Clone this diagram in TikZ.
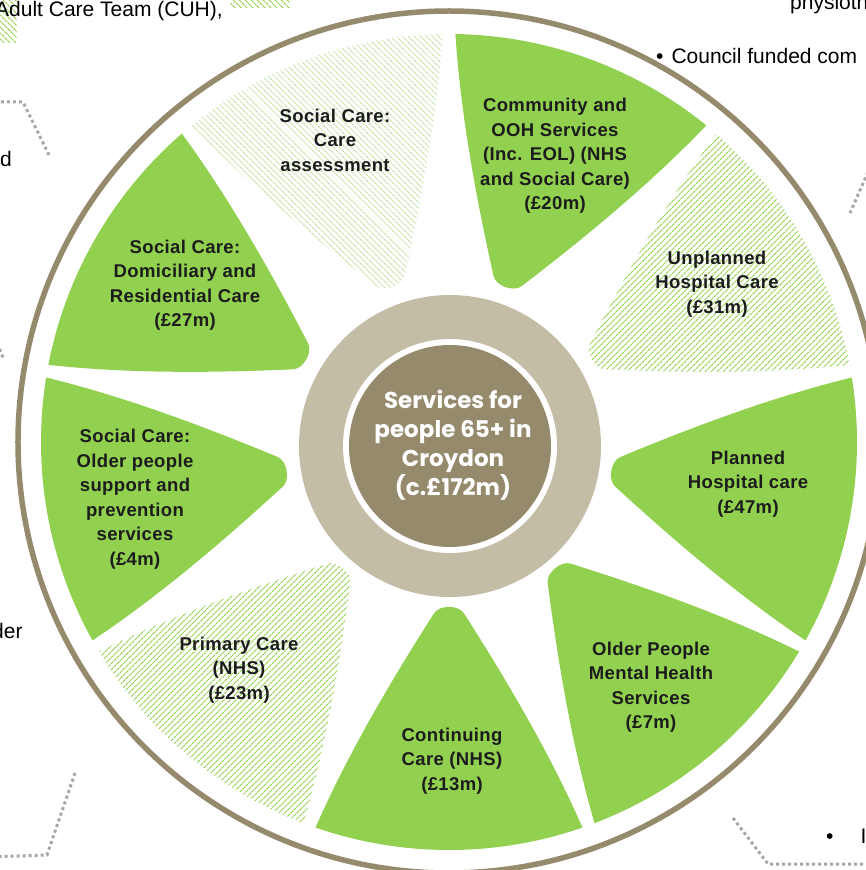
\documentclass[tikz,border=0pt]{standalone}
\usepackage{fontspec}
\setmainfont{Liberation Sans}
\newfontfamily\petalfont{Liberation Sans}[LetterSpace=2]
\newfontfamily\hubfont{Poppins}
\usepackage{tikz}
\usetikzlibrary{patterns.meta}
\definecolor{leafgreen}{HTML}{92D050}
\definecolor{hatchgreen}{HTML}{92D050}
\definecolor{palegreen}{HTML}{C6E3A6}
\definecolor{tanring}{HTML}{958A6B}
\definecolor{tanlight}{HTML}{C4BDA6}
\definecolor{dotgrey}{HTML}{A6A6A6}
\definecolor{labelink}{HTML}{1C1C1C}
\newcommand{\petalpath}[1]{({#1+19.1}:408) arc[start angle={#1+19.1}, end angle={#1-19.1}, radius=408pt]
	.. controls ({#1-18}:330) and ({#1-14}:250) .. ({#1-5}:172)
	.. controls ({#1-3.4}:163) and ({#1+3.4}:163) .. ({#1+5}:172)
	.. controls ({#1+14}:250) and ({#1+18}:330) .. cycle}
\tikzset{
		solid petal/.style={fill=leafgreen},
		hatched petal/.style={pattern={Lines[angle=45,distance=4pt,line width=1.2pt]},pattern color=hatchgreen},
		pale petal/.style={pattern={Lines[angle=-45,distance=4pt,line width=1.2pt]},pattern color=palegreen},
		petal label/.style={font=\petalfont\bfseries\fontsize{18.5}{24.5}\selectfont,text=labelink,align=center},
		hub label/.style={font=\hubfont\bfseries\fontsize{23}{29}\selectfont,text=white,align=center},
		edge text/.style={font=\fontsize{21}{25}\selectfont,text=black,inner sep=0pt},
		frame dots/.style={draw=dotgrey,line width=3pt,dash pattern=on 3pt off 3pt}
	}
\begin{document}
\begin{tikzpicture}[x=1pt,y=1pt]
	\useasboundingbox (-449,-428) rectangle (416,442);

	\fill[hatched petal,pattern={Lines[angle=-45,distance=4pt,line width=1.2pt]}] (-460,450) rectangle (-432,399);
	\fill[hatched petal,pattern={Lines[angle=-45,distance=4pt,line width=1.2pt]}] (-219,450) rectangle (-159,434);

	\draw[frame dots] (-460,340) -- (-426,340) -- (-399,285);
	\draw[frame dots] (-454,104) -- (-445,82);
	\draw[frame dots] (419,270) -- (401,229);
	\draw[frame dots] (-374,-331) -- (-402,-413) -- (-460,-415);
	\draw[frame dots] (284,-376) -- (319,-422) -- (425,-422);

	\node[edge text,anchor=base west] (adult) at (-454,425) {Adult Care Team (CUH),};
	\node[edge text,anchor=base west] (physio) at (341,432) {physioth};
	\node[edge text,anchor=base west] (council) at (207,378) {\textbullet\hspace{8pt}Council funded com};
	\node[edge text,anchor=base west] (dleft) at (-449,275) {d};
	\node[edge text,anchor=base west] (derleft) at (-457,-196) {der};
	\node[edge text,anchor=base west] (bullet) at (377,-401) {\textbullet\hspace{27pt}I};

	\draw[tanring,line width=5.5pt] (0,0) circle[radius=431pt];

	\fill[solid petal]   \petalpath{70};
	\fill[hatched petal] \petalpath{30};
	\fill[solid petal]   \petalpath{-10};
	\fill[solid petal]   \petalpath{-50};
	\fill[solid petal]   \petalpath{-90};
	\fill[hatched petal] \petalpath{-130};
	\fill[solid petal]   \petalpath{-170};
	\fill[solid petal]   \petalpath{150};
	\fill[pale petal]    \petalpath{110};

	\fill[tanlight] (1,-4) circle[radius=151pt];
	\fill[white] (1,-4) circle[radius=107pt];
	\fill[tanring] (1,-4) circle[radius=101pt];

	\node[hub label] (hub) at (4,-3) {Services for\\people 65+ in\\Croydon\\(c.£172m)};

	\node[petal label] (community) at (106,286) {Community and\\OOH Services\\(Inc. EOL) (NHS\\and Social Care)\\(£20m)};
	\node[petal label] (unplanned) at (268,158) {Unplanned\\Hospital Care\\(£31m)};
	\node[petal label] (planned) at (299,-42) {Planned\\Hospital care\\(£47m)};
	\node[petal label] (mental) at (202,-245) {Older People\\Mental Health\\Services\\(£7m)};
	\node[petal label] (continuing) at (3,-319) {Continuing\\Care (NHS)\\(£13m)};
	\node[petal label] (primary) at (-210,-228) {Primary Care\\(NHS)\\(£23m)};
	\node[petal label] (prevention) at (-314,-57) {Social Care:\\Older people\\support and\\prevention\\services\\(£4m)};
	\node[petal label] (domiciliary) at (-264,157) {Social Care:\\Domiciliary and\\Residential Care\\(£27m)};
	\node[petal label] (assessment) at (-114,302) {Social Care:\\Care\\assessment};
\end{tikzpicture}
\end{document}
